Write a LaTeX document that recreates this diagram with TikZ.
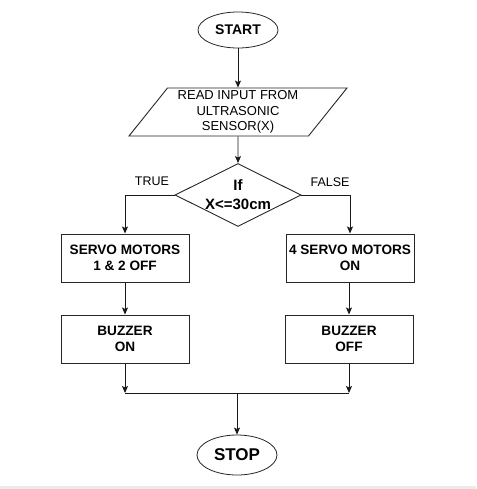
\documentclass[tikz,border=0pt]{standalone}
\usepackage{fontspec}
\setmainfont{Liberation Sans}
\usetikzlibrary{positioning}
\usetikzlibrary{shapes.geometric}
\usetikzlibrary{arrows.meta}

\begin{document}
\begin{tikzpicture}[x = 1pt, y = -1pt,
        >={Stealth[length = 7pt, width = 6pt, inset = 1.5pt]},
        terminal/.style = {shape = ellipse, draw = black!85, line width = 0.8pt, inner sep = 0pt, font = \bfseries},
        io/.style = {shape = trapezium, trapezium left angle = 48, trapezium right angle = 132, trapezium stretches body, draw = black!85, line width = 0.9pt, minimum width = 218pt, minimum height = 48pt, inner sep = 0pt, align = center, font = \fontsize{13}{15.5}\selectfont},
        decision/.style = {shape = diamond, shape aspect = 2, draw = black!85, line width = 0.9pt, inner sep = 0pt, align = center, font = \fontsize{15}{19}\selectfont\bfseries},
        process/.style = {shape = rectangle, draw = black!85, line width = 1pt, minimum width = 128pt, minimum height = 48pt, inner sep = 0pt, align = center, font = \fontsize{13.6}{16.5}\selectfont\bfseries},
        branch/.style = {font = \fontsize{12.5}{14}\selectfont},
        flow/.style = {draw = black!90, line width = 0.8pt},
    ]
    \useasboundingbox (0,0) rectangle (476,489);
    \fill[black!8] (0,486) rectangle (476,489);

    \node[terminal, minimum width = 80pt, minimum height = 36pt, font = \fontsize{14}{16}\selectfont\bfseries] (start) at (238,30) {START};
    \node[io] (read) at (238,112) {READ INPUT FROM\\ULTRASONIC\\SENSOR(X)};
    \node[decision] (cond) at (238,195) {If\\X<=30cm};
    \node[process] (servoA) at (125,258) {SERVO MOTORS\\1 \& 2 OFF};
    \node[process] (servoB) at (350,258) {4 SERVO MOTORS\\ON};
    \node[process] (buzzOn) at (125,339) {BUZZER\\ON};
    \node[process] (buzzOff) at (349,339) {BUZZER\\OFF};
    \node[terminal, minimum width = 80pt, minimum height = 40pt, font = \fontsize{17}{19}\selectfont\bfseries] (stop) at (237,455) {STOP};

    \node[branch] (true) at (152,181) {TRUE};
    \node[branch] (false) at (330,182) {FALSE};

    \coordinate (joinA) at (125,393);
    \coordinate (joinB) at (349,393);
    \coordinate (joinM) at (237,393);

    \draw[flow, ->] (start) -- (read);
    \draw[flow, ->] (read) -- (cond);
    \draw[flow, ->] (cond.west) -| (servoA);
    \draw[flow, ->] (cond.east) -| (servoB);
    \draw[flow, ->] (servoA) -- (buzzOn);
    \draw[flow, ->] (servoB.south -| buzzOff) -- (buzzOff);
    \draw[flow, ->] (buzzOn) -- (joinA);
    \draw[flow, ->] (buzzOff) -- (joinB);
    \draw[flow] (joinA) -- (joinB);
    \draw[flow, ->] (joinM) -- (stop);
\end{tikzpicture}
\end{document}
